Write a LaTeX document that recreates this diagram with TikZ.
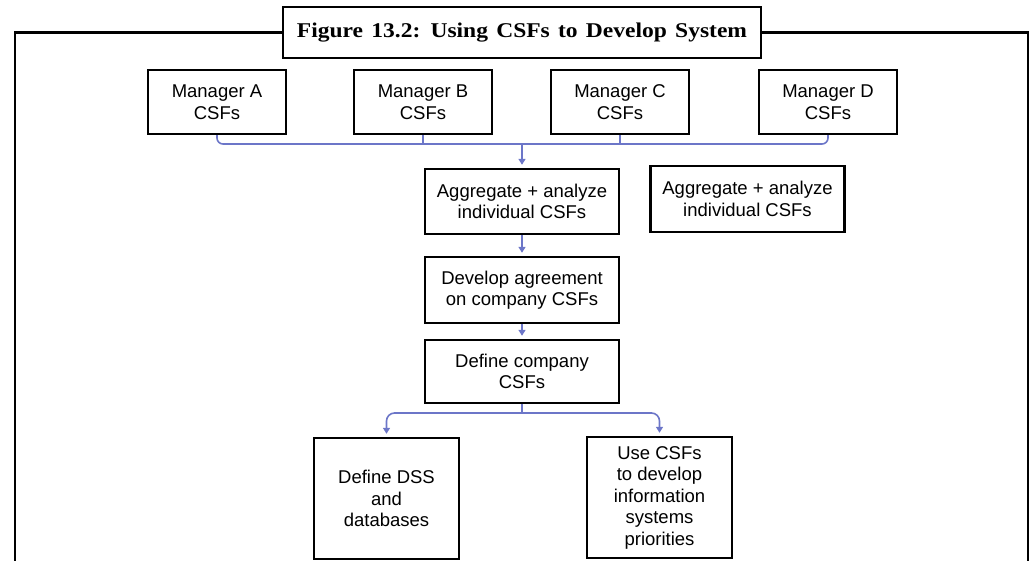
\documentclass[tikz,border=0pt]{standalone}
\usepackage{fontspec}
\usepackage{xcolor}
\usepackage{tikz}
\usetikzlibrary{positioning,arrows.meta}
\setmainfont{Liberation Sans}
\newfontfamily\titlefont[FakeStretch=1.12,WordSpace=1.4]{Liberation Serif}
\definecolor{connblue}{RGB}{108,118,200}

\begin{document}
\begin{tikzpicture}[
  x=1pt, y=-1pt,
  box/.style={draw, line width=2.4pt, inner sep=2pt, align=center, font=\fontsize{18.5}{21.5}\selectfont},
  mgr/.style={box, minimum width=138pt, minimum height=64pt},
  step box/.style={box, minimum width=194pt, minimum height=65pt},
  leaf/.style={box, minimum width=145pt, minimum height=121pt},
  frame/.style={line width=2.4pt},
  conn/.style={draw=connblue, line width=1.6pt},
  arr/.style={conn, -{Triangle[length=6pt,width=7pt]}, shorten >=3pt}
]
\useasboundingbox (0,0) rectangle (1032,561);

\node[box, minimum width=478pt, minimum height=51pt, font=\titlefont\bfseries\fontsize{21}{24}\selectfont] (title) at (522,32.5) {Figure 13.2: Using CSFs to Develop System};
\coordinate (fbl) at (15,561);
\coordinate (fbr) at (1028,561);
\draw[frame] (title.west) -| (fbl);
\draw[frame] (title.east) -| (fbr);

\node[mgr] (mgrA) at (217,102) {Manager A\\CSFs};
\node[mgr] (mgrB) at (423,102) {Manager B\\CSFs};
\node[mgr] (mgrC) at (620,102) {Manager C\\CSFs};
\node[mgr] (mgrD) at (828,102) {Manager D\\CSFs};

\node[step box] (agg) at (522,201.5) {Aggregate + analyze\\individual CSFs};
\node[step box, minimum height=66pt] (agg2) at (747.5,199) {Aggregate + analyze\\individual CSFs};
\node[step box, minimum height=66pt] (agree) at (522,290) {Develop agreement\\on company CSFs};
\node[step box, minimum height=63pt] (define) at (522,371.5) {Define company\\CSFs};
\node[leaf] (dss) at (386.5,498.5) {Define DSS\\and\\databases};
\node[leaf] (use) at (659.5,497.5) {Use CSFs\\to develop\\information\\systems\\priorities};

\coordinate (bus) at (522,144);
\coordinate (split) at (522,413);

\draw[conn, rounded corners=6pt] (mgrA.south) |- (bus) -| (mgrD.south);
\draw[conn] (mgrB.south) -- (mgrB.south |- bus);
\draw[conn] (mgrC.south) -- (mgrC.south |- bus);
\draw[arr] (bus) -- (agg.north);
\draw[arr] (agg) -- (agree);
\draw[arr] (agree) -- (define);
\draw[conn] (define.south) -- (split);
\draw[arr, rounded corners=8pt] (split) -| (dss.north);
\draw[arr, rounded corners=8pt] (split) -| (use.north);
\end{tikzpicture}
\end{document}
